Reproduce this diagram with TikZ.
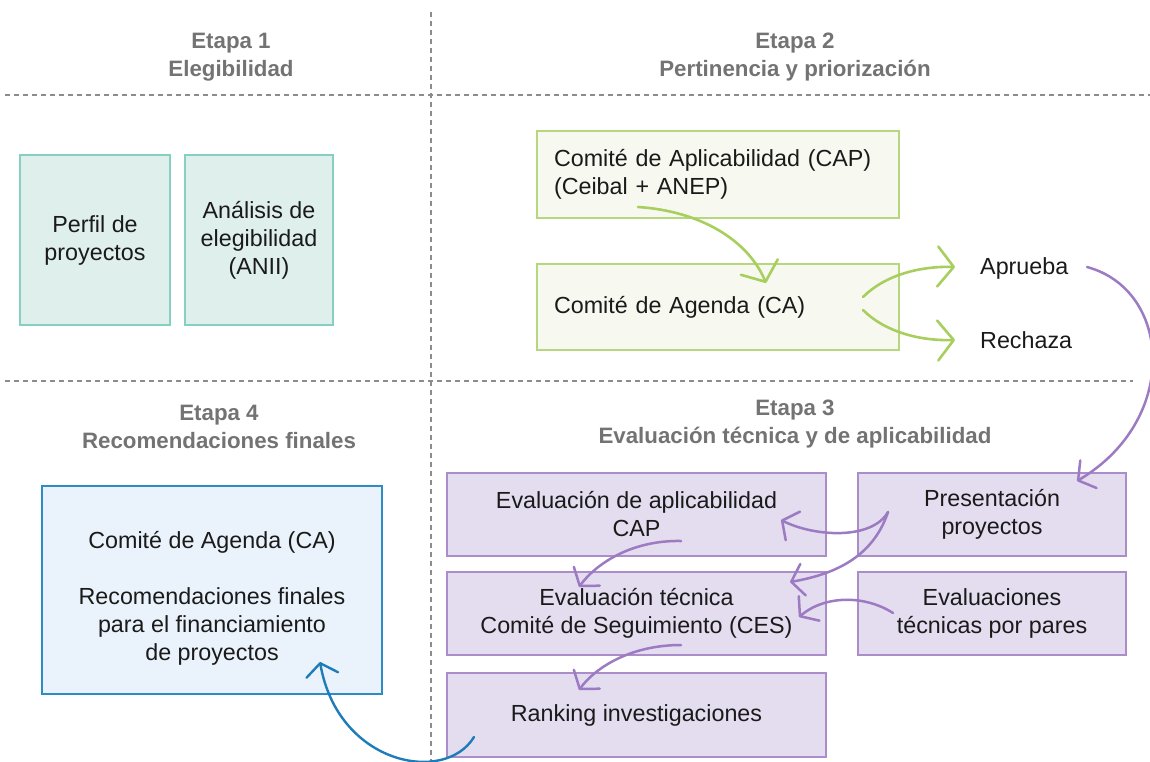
\documentclass[tikz,border=0pt]{standalone}
\usepackage{fontspec}
\setmainfont{Liberation Sans}
\usetikzlibrary{arrows.meta}
\definecolor{tealF}{HTML}{DFEFEC}
\definecolor{tealB}{HTML}{86CFC3}
\definecolor{greenF}{HTML}{F7F9F0}
\definecolor{greenB}{HTML}{B7D77F}
\definecolor{greenA}{HTML}{A8CE5E}
\definecolor{purpleF}{HTML}{E4DCEF}
\definecolor{purpleB}{HTML}{AA8DC9}
\definecolor{purpleA}{HTML}{9C7BC2}
\definecolor{blueF}{HTML}{EAF3FB}
\definecolor{blueB}{HTML}{2D8CC4}
\definecolor{blueA}{HTML}{1E7DB8}
\definecolor{headG}{HTML}{737373}
\definecolor{lineG}{HTML}{8C8C8C}
\definecolor{txt}{HTML}{1A1A1A}
\begin{document}
\begin{tikzpicture}[x=1pt,y=-1pt,
  base/.style={font=\fontsize{23.3}{28}\selectfont, text=txt, align=center, inner sep=0pt},
  head/.style={font=\fontsize{22.3}{28}\selectfont\bfseries, text=headG, align=center, inner sep=0pt},
  tealbox/.style={base, draw=tealB, fill=tealF, line width=1.2pt},
  greenbox/.style={base, draw=greenB, fill=greenF, line width=1.2pt, align=left, text width=328pt, inner xsep=17pt, minimum width=362pt},
  purplebox/.style={base, draw=purpleB, fill=purpleF, line width=1.2pt},
  bluebox/.style={base, draw=blueB, fill=blueF, line width=1.2pt},
  sep/.style={draw=lineG, line width=1.1pt, dash pattern=on 5pt off 4pt},
  garrow/.style={draw=greenA, line width=2.6pt, line cap=round, -{Straight Barb[length=16pt,width=40pt,round]}},
  parrow/.style={draw=purpleA, line width=2.5pt, line cap=round, -{Straight Barb[length=12pt,width=32pt,round]}},
  barrow/.style={draw=blueA, line width=2.4pt, line cap=round, -{Straight Barb[length=12pt,width=32pt,round]}}
]
\useasboundingbox (0,0) rectangle (1150,762);
% separators
\coordinate (v1) at (431,12); \coordinate (v2) at (431,762);
\coordinate (h1a) at (5,95); \coordinate (h1b) at (1150,95);
\coordinate (h2a) at (5,381); \coordinate (h2b) at (1133,381);
\draw[sep] (v1) -- (v2);
\draw[sep] (h1a) -- (h1b);
\draw[sep] (h2a) -- (h2b);
% headers
\node[head] (e1) at (231,57) {Etapa 1\\Elegibilidad};
\node[head] (e2) at (795,57) {Etapa 2\\Pertinencia y priorización};
\node[head] (e4) at (219,427) {Etapa 4\\Recomendaciones finales};
\node[head] (e3) at (795,424) {Etapa 3\\Evaluación técnica y de aplicabilidad};
% stage 1
\node[tealbox, minimum width=150pt, minimum height=170pt] (perfil) at (95,240) {Perfil de\\proyectos};
\node[tealbox, minimum width=148pt, minimum height=170pt] (anal) at (259,240) {Análisis de\\elegibilidad\\(ANII)};
% stage 2
\node[greenbox, minimum height=87pt] (cap) at (718,174.5) {Comité de Aplicabilidad (CAP)\\(Ceibal + ANEP)};
\node[greenbox, minimum height=86pt] (ca) at (718,307) {Comité de Agenda (CA)};
\node[base, anchor=west] (apr) at (980,268) {Aprueba};
\node[base, anchor=west] (rech) at (980,340) {Rechaza};
\coordinate (g1s) at (638,207); \coordinate (g1e) at (766,283);
\coordinate (g2s) at (863,297); \coordinate (g2e) at (955,267);
\coordinate (g3s) at (863,310); \coordinate (g3e) at (955,340);
\draw[garrow] (g1s) .. controls (700,211) and (748,240) .. (g1e);
\draw[garrow] (g2s) .. controls (885,275) and (920,266) .. (g2e);
\draw[garrow] (g3s) .. controls (885,332) and (920,341) .. (g3e);
% stage 3
\node[purplebox, minimum width=379pt, minimum height=83pt] (evap) at (636.5,514.5) {Evaluación de aplicabilidad\\CAP};
\node[purplebox, minimum width=268pt, minimum height=83pt] (pres) at (992,514.5) {Presentación\\proyectos};
\node[purplebox, minimum width=379pt, minimum height=83pt] (evtec) at (636.5,613.5) {Evaluación técnica\\Comité de Seguimiento (CES)};
\node[purplebox, minimum width=268pt, minimum height=83pt] (pares) at (992,613.5) {Evaluaciones\\técnicas por pares};
\node[purplebox, minimum width=379pt, minimum height=84pt] (rank) at (636.5,715) {Ranking investigaciones};
\coordinate (p0s) at (1087,267); \coordinate (p0e) at (1077,481);
\draw[parrow] (p0s) .. controls (1172,290) and (1180,420) .. (p0e);
\coordinate (p1s) at (888,512); \coordinate (p1e) at (781,520);
\coordinate (p2e) at (790,582);
\coordinate (p3s) at (681,541); \coordinate (p3e) at (579,587);
\coordinate (p4s) at (893,613); \coordinate (p4e) at (799,617);
\coordinate (p5s) at (681,645); \coordinate (p5e) at (579,690);
\draw[parrow] (p1s) .. controls (872,540) and (815,537) .. (p1e);
\draw[parrow] (p1s) .. controls (872,560) and (830,575) .. (p2e);
\draw[parrow] (p3s) .. controls (630,540) and (595,565) .. (p3e);
\draw[parrow] (p4s) .. controls (865,595) and (825,595) .. (p4e);
\draw[parrow] (p5s) .. controls (630,645) and (595,668) .. (p5e);
% stage 4
\node[bluebox, minimum width=340pt, minimum height=208pt] (blue) at (212,590) {};
\node[base] (bluetext) at (212,598) {Comité de Agenda (CA)\\[28pt]Recomendaciones finales\\para el financiamiento\\de proyectos};
\coordinate (b1s) at (474,737); \coordinate (b1e) at (320,662);
\draw[barrow] (b1s) .. controls (445,785) and (338,765) .. (b1e);
\end{tikzpicture}
\end{document}
